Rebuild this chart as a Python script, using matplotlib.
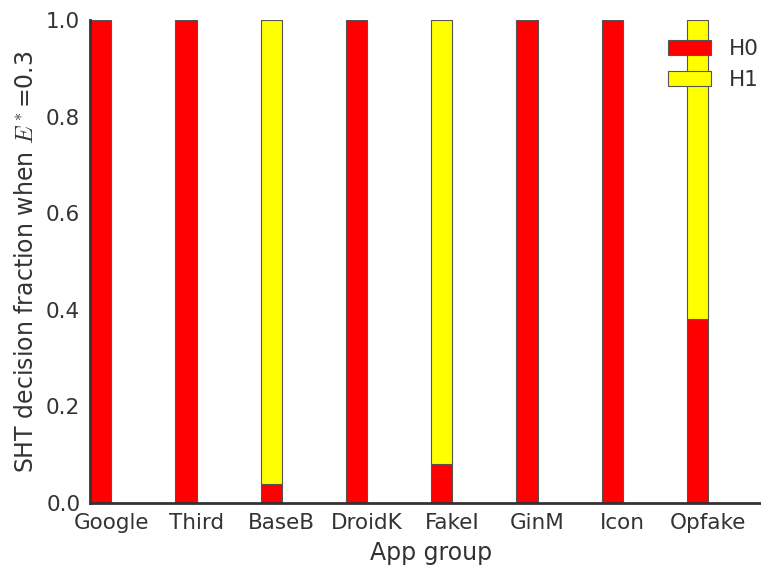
import numpy as np
import matplotlib.pyplot as plt

plt.rcParams['mathtext.fontset'] = 'cm'

groups = ['Google', 'Third', 'BaseB', 'DroidK', 'FakeI', 'GinM', 'Icon', 'Opfake']
h0 = [1.0, 1.0, 0.04, 1.0, 0.08, 1.0, 1.0, 0.38]
h1 = [0.0, 0.0, 0.96, 0.0, 0.92, 0.0, 0.0, 0.62]

width = 0.25
ind = np.arange(len(groups))

fig = plt.figure(figsize=(7.61, 5.66), dpi=100)
ax = fig.add_axes([90 / 761, 63 / 566, 682 / 761, 483 / 566])

ax.bar(ind, h0, width, align='edge', color='#ff0000', edgecolor='#555555', linewidth=0.8, label='H0')
ax.bar(ind, h1, width, bottom=h0, align='edge', color='#ffff00', edgecolor='#555555', linewidth=0.8, label='H1')

ax.set_xlim(0, 8)
ax.set_ylim(0, 1.0)
ax.set_xticks(ind + width)
ax.set_xticklabels(groups)
ax.set_yticks([0.0, 0.2, 0.4, 0.6, 0.8, 1.0])
ax.tick_params(length=0, labelsize=15.5, colors='#333333', pad=7)

for side in ['top', 'right']:
    ax.spines[side].set_visible(False)
for side in ['left', 'bottom']:
    ax.spines[side].set_linewidth(2)
    ax.spines[side].set_color('#333333')

ax.set_xlabel('App group', fontsize=17, color='#333333', labelpad=6)
ax.set_ylabel('SHT decision fraction when $E^*$=0.3', fontsize=17, color='#333333', labelpad=6)

leg = ax.legend(loc='upper left', bbox_to_anchor=(649 / 761, 1 - 20 / 566),
                bbox_transform=fig.transFigure, frameon=False, fontsize=15.5,
                handlelength=2.0, handleheight=0.7, labelspacing=0.5)
for t in leg.get_texts():
    t.set_color('#333333')

fig.savefig('out.png', dpi=100)
